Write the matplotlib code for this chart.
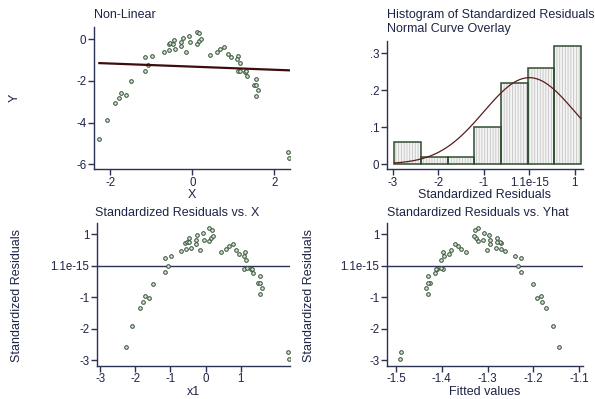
import numpy as np
import matplotlib
matplotlib.use('Agg')
import matplotlib.pyplot as plt

plt.rcParams['font.family'] = ['Liberation Sans', 'DejaVu Sans']
plt.rcParams['hatch.linewidth'] = 0.6

# data
x = [-2.27, -2.09, -1.88, -1.78, -1.73, -1.62, -1.50, -1.16, -1.16, -1.08,
     -0.99, -0.69, -0.57, -0.58, -0.54, -0.47, -0.46, -0.43, -0.27, -0.27,
     -0.24, -0.16, -0.08, -0.05, 0.10, 0.17, 0.10, 0.15, 0.20, 0.43,
     0.59, 0.67, 0.77, 0.87, 0.94, 1.11, 1.09, 1.16, 1.10, 1.17,
     1.29, 1.31, 1.34, 1.54, 1.49, 1.55, 1.61, 1.54, 2.33, 2.36]
y = [-4.79, -3.87, -3.06, -2.83, -2.56, -2.66, -2.02, -0.86, -1.51, -1.23,
     -0.79, -0.59, -0.51, -0.24, -0.19, -0.21, -0.03, -0.48, -0.14, -0.32,
     0.08, -0.59, 0.18, -0.14, 0.37, 0.30, -0.22, -0.07, 0.00, -0.74,
     -0.59, -0.48, -0.38, -0.69, -0.85, -0.79, -0.95, -1.15, -1.54, -1.51,
     -1.55, -1.54, -1.76, -1.91, -2.21, -2.21, -2.42, -2.72, -5.39, -5.70]

# histogram of standardized residuals (fractions)
hist_fraction = [0.06, 0.02, 0.02, 0.10, 0.22, 0.26, 0.32]
hist_start = -2.97
hist_width = 0.586
norm_mean = 0.0
norm_sd = 1.0

x = np.array(x)
y = np.array(y)

# OLS fit, fitted values, residuals standardized to mean 0 / sd 1
b, a = np.polyfit(x, y, 1)
yhat = a + b * x
e = y - yhat
rstd = (e - e.mean()) / e.std(ddof=1)

W, H = 595, 399
fig = plt.figure(figsize=(W / 100, H / 100), dpi=100)

txt = '#1e2444'
axc = '#2c3254'
mk = dict(marker='o', ms=2.6, mfc='#dfe6d8', mec='#36563a', mew=0.75, ls='none')


def add_ax(l, r, t, bt):
    ax = fig.add_axes([l / W, 1 - bt / H, (r - l) / W, (bt - t) / H])
    for sp in ['top', 'right']:
        ax.spines[sp].set_visible(False)
    for sp in ['left', 'bottom']:
        ax.spines[sp].set_color(axc)
        ax.spines[sp].set_linewidth(1.0)
    ax.tick_params(colors=axc, labelcolor=txt, labelsize=8.3, length=4, width=1.0, pad=1.5)
    ax.patch.set_alpha(0)
    return ax


def ftext(px, py, s, **kw):
    fig.text(px / W, 1 - py / H, s, color=txt, fontsize=9, **kw)


# panel 1: Y vs X
ax1 = add_ax(94, 290, 27, 169)
ax1.plot(x, y, **mk)
xs = np.array([x.min(), x.max()])
ax1.plot(xs, a + b * xs, color='#3e0c0c', lw=1.6)
ax1.set_xlim(-2.40, 2.38)
ax1.set_ylim(-6.23, 0.59)
ax1.set_xticks([-2, 0, 2])
ax1.set_yticks([-6, -4, -2, 0])
ax1.set_yticklabels(['-6', '-4', '-2', '0'])
ax1.set_xticklabels(['-2', '0', '2'])
ftext(94, 15, 'Non-Linear', va='center', ha='left')
ftext(15, 98, 'Y', va='center', ha='center', rotation=90)
ftext(192, 189.5, 'X', va='top', ha='center')

# panel 2: histogram
ax2 = add_ax(387, 583, 41, 169)
lefts = hist_start + hist_width * np.arange(len(hist_fraction))
ax2.bar(lefts, hist_fraction, width=hist_width, align='edge', color='#f4f4f4',
        edgecolor='#c4c4c4', hatch='||||||', lw=0)
ax2.bar(lefts, hist_fraction, width=hist_width, align='edge', fill=False,
        edgecolor='#2e4c2e', lw=1.1)
gx = np.linspace(hist_start, hist_start + hist_width * len(hist_fraction), 200)
gy = hist_width * np.exp(-0.5 * ((gx - norm_mean) / norm_sd) ** 2) / (norm_sd * np.sqrt(2 * np.pi))
ax2.plot(gx, gy, color='#5a1c1c', lw=0.9)
ax2.set_xlim(-3.13, 1.18)
ax2.set_ylim(-0.0135, 0.333)
ax2.set_xticks([-3, -2, -1, 0, 1])
ax2.set_xticklabels(['-3', '-2', '-1', '1.1e-15', '1'])
ax2.set_yticks([0, 0.1, 0.2, 0.3])
ax2.set_yticklabels(['0', '.1', '.2', '.3'])
ftext(387, 15, 'Histogram of Standardized Residuals', va='center', ha='left')
ftext(387, 29, 'Normal Curve Overlay', va='center', ha='left')
ftext(485, 189.5, 'Standardized Residuals', va='top', ha='center')

# panel 3: standardized residuals vs X
ax3 = add_ax(97, 290, 223, 365.7)
ax3.axhline(0, color=axc, lw=1.0)
ax3.plot(x, rstd, **mk)
ax3.set_xlim(-3.09, 2.40)
ax3.set_ylim(-3.18, 1.36)
ax3.set_xticks([-3, -2, -1, 0, 1])
ax3.set_xticklabels(['-3', '-2', '-1', '0', '1'])
ax3.set_yticks([-3, -2, -1, 0, 1])
ax3.set_yticklabels(['-3', '-2', '-1', '1.1e-15', '1'])
ftext(95, 213, 'Standardized Residuals vs. X', va='center', ha='left')
ftext(17, 295, 'Standardized Residuals', va='center', ha='center', rotation=90)
ftext(193, 386, 'x1', va='top', ha='center')

# panel 4: standardized residuals vs fitted
ax4 = add_ax(387, 583, 223, 365.7)
ax4.axhline(0, color=axc, lw=1.0)
ax4.plot(yhat, rstd, **mk)
ax4.set_xlim(-1.52, -1.091)
ax4.set_ylim(-3.18, 1.36)
ax4.set_xticks([-1.5, -1.4, -1.3, -1.2, -1.1])
ax4.set_xticklabels(['-1.5', '-1.4', '-1.3', '-1.2', '-1.1'])
ax4.set_yticks([-3, -2, -1, 0, 1])
ax4.set_yticklabels(['-3', '-2', '-1', '1.1e-15', '1'])
ftext(387, 213, 'Standardized Residuals vs. Yhat', va='center', ha='left')
ftext(309, 295, 'Standardized Residuals', va='center', ha='center', rotation=90)
ftext(485, 386, 'Fitted values', va='top', ha='center')

fig.savefig('out.png', dpi=100)
